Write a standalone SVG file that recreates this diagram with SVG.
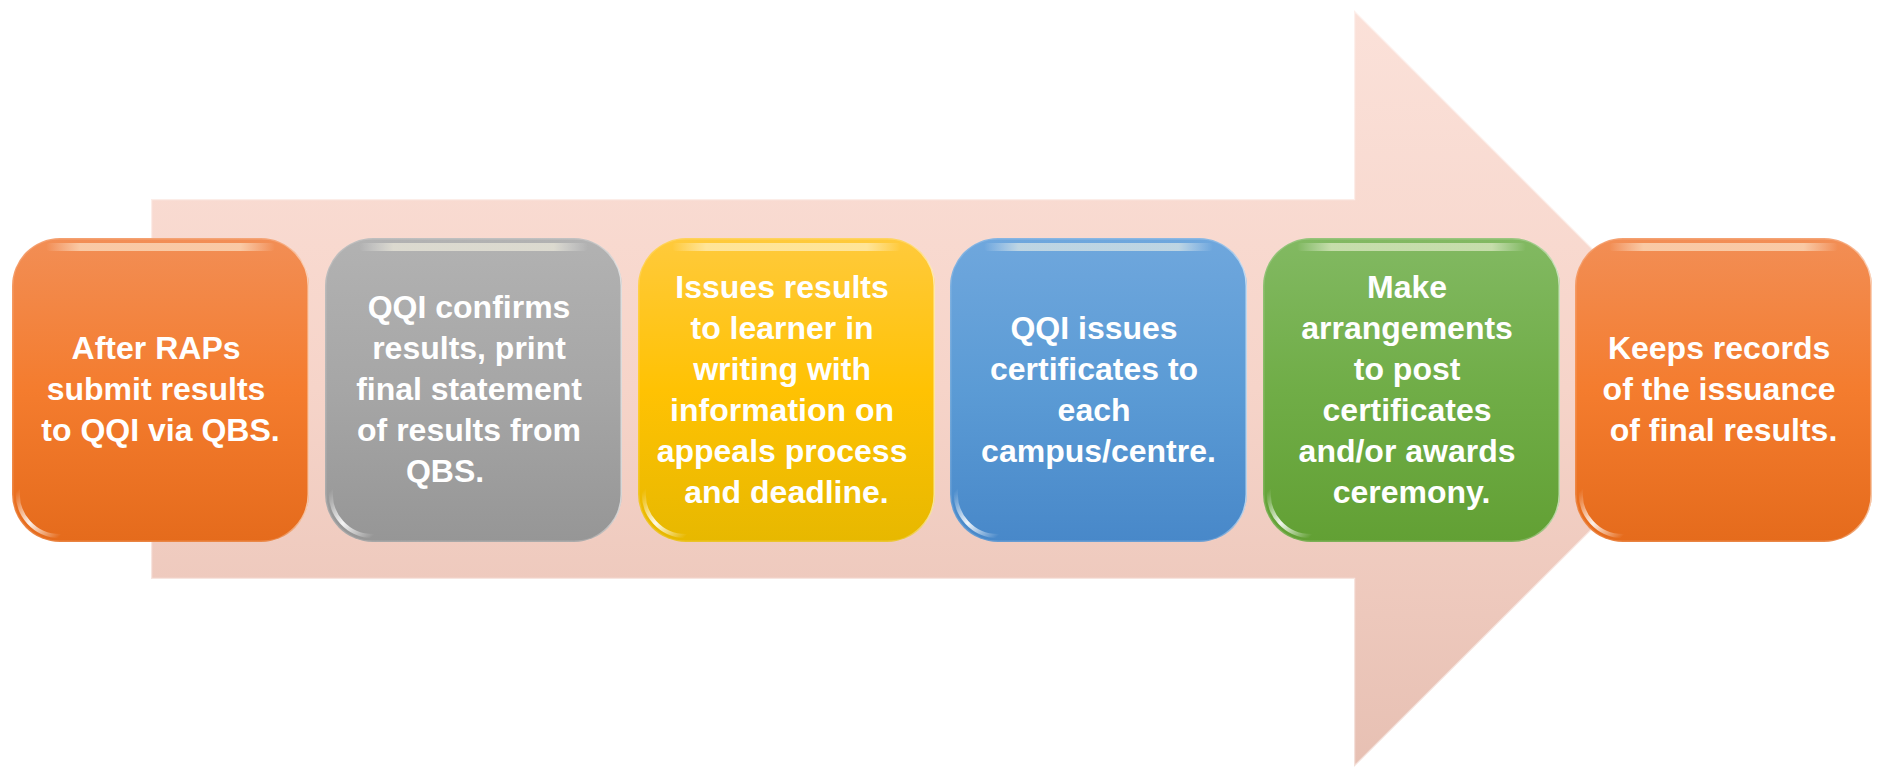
<svg xmlns="http://www.w3.org/2000/svg" xmlns:xlink="http://www.w3.org/1999/xlink" width="1880" height="768" viewBox="0 0 1880 768">
  <style>
    .lbl { font-family: "Liberation Sans", Arial, sans-serif; font-weight: bold; font-size: 32px; fill: #ffffff; text-anchor: middle; }
    .box { stroke: none; }
  </style>
  <defs>
    <!-- backdrop arrow shading -->
    <linearGradient id="arrowFill" gradientUnits="userSpaceOnUse" x1="0" y1="10" x2="0" y2="767">
      <stop offset="0" stop-color="#fbe1d9"/>
      <stop offset="0.5" stop-color="#f6d4c9"/>
      <stop offset="1" stop-color="#e7c0b3"/>
    </linearGradient>

    <!-- box fills -->
    <linearGradient id="gOrange" x1="0" y1="0" x2="0" y2="1">
      <stop offset="0" stop-color="#f28e55"/>
      <stop offset="0.5" stop-color="#f47c2e"/>
      <stop offset="1" stop-color="#e56b1c"/>
    </linearGradient>
    <linearGradient id="gGray" x1="0" y1="0" x2="0" y2="1">
      <stop offset="0" stop-color="#b2b2b2"/>
      <stop offset="0.5" stop-color="#a6a6a6"/>
      <stop offset="1" stop-color="#969696"/>
    </linearGradient>
    <linearGradient id="gYellow" x1="0" y1="0" x2="0" y2="1">
      <stop offset="0" stop-color="#ffca3c"/>
      <stop offset="0.5" stop-color="#ffc203"/>
      <stop offset="1" stop-color="#e7b800"/>
    </linearGradient>
    <linearGradient id="gBlue" x1="0" y1="0" x2="0" y2="1">
      <stop offset="0" stop-color="#6fa7dd"/>
      <stop offset="0.5" stop-color="#5b9bd5"/>
      <stop offset="1" stop-color="#4888c9"/>
    </linearGradient>
    <linearGradient id="gGreen" x1="0" y1="0" x2="0" y2="1">
      <stop offset="0" stop-color="#82b962"/>
      <stop offset="0.5" stop-color="#70ad47"/>
      <stop offset="1" stop-color="#62a034"/>
    </linearGradient>

    <!-- gloss highlights shared by every box -->
    <linearGradient id="topShine" x1="0" y1="0" x2="1" y2="0">
      <stop offset="0" stop-color="#ffffff" stop-opacity="0"/>
      <stop offset="0.15" stop-color="#fffbe8" stop-opacity="0.55"/>
      <stop offset="0.85" stop-color="#fffbe8" stop-opacity="0.55"/>
      <stop offset="1" stop-color="#ffffff" stop-opacity="0"/>
    </linearGradient>
    <linearGradient id="cornerShine" x1="0" y1="0" x2="1" y2="1">
      <stop offset="0" stop-color="#ffffff" stop-opacity="0"/>
      <stop offset="0.5" stop-color="#ffffff" stop-opacity="0.9"/>
      <stop offset="1" stop-color="#ffffff" stop-opacity="0"/>
    </linearGradient>
    <linearGradient id="rimShine" x1="0" y1="0" x2="1" y2="0">
      <stop offset="0" stop-color="#ffffff" stop-opacity="0.15"/>
      <stop offset="0.9" stop-color="#ffffff" stop-opacity="0.2"/>
      <stop offset="1" stop-color="#ffffff" stop-opacity="0.6"/>
    </linearGradient>
    <g id="gloss">
      <rect x="0.75" y="0.75" width="295.5" height="302.5" rx="47" fill="none" stroke="url(#rimShine)" stroke-width="1.5"/>
      <rect x="34" y="5" width="229" height="8" rx="4" fill="url(#topShine)"/>
      <path d="M6 252 A42 42 0 0 0 48 298" fill="none" stroke="url(#cornerShine)" stroke-width="4" stroke-linecap="round"/>
    </g>
  </defs>

  <rect width="1880" height="768" fill="#ffffff"/>

  <!-- large background arrow -->
  <g id="connectors">
    <polygon points="151,199 1354,199 1354,10 1733,389 1354,767 1354,579 151,579"
             fill="url(#arrowFill)" stroke="#ffffff" stroke-opacity="0.5" stroke-width="2.5" stroke-linejoin="miter"/>
  </g>

  <!-- step 1 -->
  <g id="step1">
    <rect class="box" x="12" y="238" width="297" height="304" rx="48" fill="url(#gOrange)"/>
    <use href="#gloss" xlink:href="#gloss" x="12" y="238"/>
    <text class="lbl">
      <tspan x="160.5" y="359">After RAPs</tspan>
      <tspan x="160.5" y="400">submit results</tspan>
      <tspan x="160.5" y="441">to QQI via QBS.</tspan>
    </text>
  </g>

  <!-- step 2 -->
  <g id="step2">
    <rect class="box" x="325" y="238" width="297" height="304" rx="48" fill="url(#gGray)"/>
    <use href="#gloss" xlink:href="#gloss" x="325" y="238"/>
    <text class="lbl">
      <tspan x="473.5" y="318">QQI confirms</tspan>
      <tspan x="473.5" y="359">results, print</tspan>
      <tspan x="473.5" y="400">final statement</tspan>
      <tspan x="473.5" y="441">of results from</tspan>
      <tspan x="445" y="482">QBS.</tspan>
    </text>
  </g>

  <!-- step 3 -->
  <g id="step3">
    <rect class="box" x="638" y="238" width="297" height="304" rx="48" fill="url(#gYellow)"/>
    <use href="#gloss" xlink:href="#gloss" x="638" y="238"/>
    <text class="lbl">
      <tspan x="786.5" y="297.5">Issues results</tspan>
      <tspan x="786.5" y="338.5">to learner in</tspan>
      <tspan x="786.5" y="379.5">writing with</tspan>
      <tspan x="786.5" y="420.5">information on</tspan>
      <tspan x="786.5" y="461.5">appeals process</tspan>
      <tspan x="786.5" y="502.5">and deadline.</tspan>
    </text>
  </g>

  <!-- step 4 -->
  <g id="step4">
    <rect class="box" x="950" y="238" width="297" height="304" rx="48" fill="url(#gBlue)"/>
    <use href="#gloss" xlink:href="#gloss" x="950" y="238"/>
    <text class="lbl">
      <tspan x="1098.5" y="338.5">QQI issues</tspan>
      <tspan x="1098.5" y="379.5">certificates to</tspan>
      <tspan x="1098.5" y="420.5">each</tspan>
      <tspan x="1098.5" y="461.5">campus/centre.</tspan>
    </text>
  </g>

  <!-- step 5 -->
  <g id="step5">
    <rect class="box" x="1263" y="238" width="297" height="304" rx="48" fill="url(#gGreen)"/>
    <use href="#gloss" xlink:href="#gloss" x="1263" y="238"/>
    <text class="lbl">
      <tspan x="1411.5" y="297.5">Make</tspan>
      <tspan x="1411.5" y="338.5">arrangements</tspan>
      <tspan x="1411.5" y="379.5">to post</tspan>
      <tspan x="1411.5" y="420.5">certificates</tspan>
      <tspan x="1411.5" y="461.5">and/or awards</tspan>
      <tspan x="1411.5" y="502.5">ceremony.</tspan>
    </text>
  </g>

  <!-- step 6 -->
  <g id="step6">
    <rect class="box" x="1575" y="238" width="297" height="304" rx="48" fill="url(#gOrange)"/>
    <use href="#gloss" xlink:href="#gloss" x="1575" y="238"/>
    <text class="lbl">
      <tspan x="1723.5" y="359">Keeps records</tspan>
      <tspan x="1723.5" y="400">of the issuance</tspan>
      <tspan x="1723.5" y="441">of final results.</tspan>
    </text>
  </g>
</svg>
